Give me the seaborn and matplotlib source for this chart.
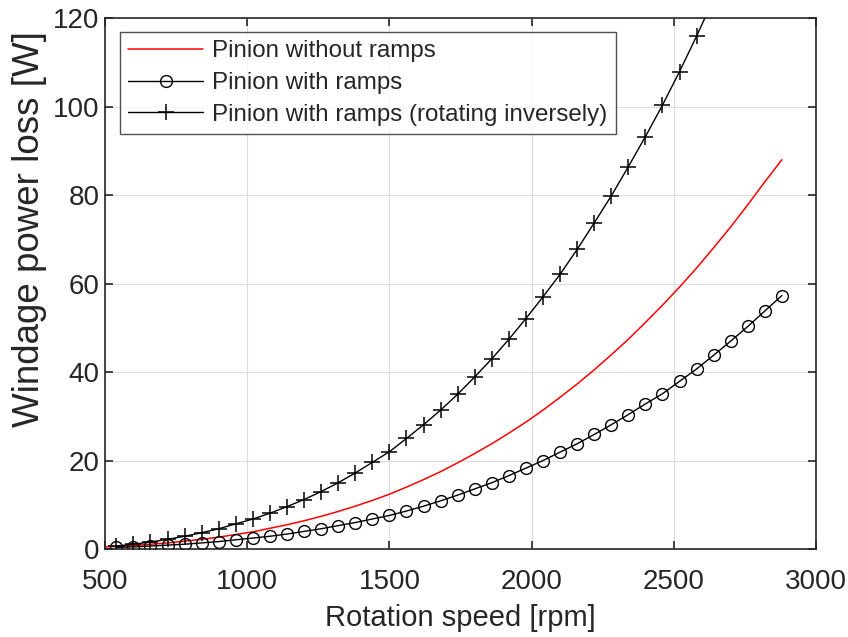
import matplotlib
matplotlib.use("Agg")
import matplotlib.pyplot as plt
import seaborn as sns
import pandas as pd

# ---------------------------------------------
# Datos (rpm -> W)
# ---------------------------------------------
speed_red = [500, 540, 600, 660, 720, 780, 840, 900, 960, 1020, 1080, 1140, 1200,
             1260, 1320, 1380, 1440, 1500, 1560, 1620, 1680, 1740, 1800, 1860,
             1920, 1980, 2040, 2100, 2160, 2220, 2280, 2340, 2400, 2460, 2520,
             2580, 2640, 2700, 2760, 2820, 2880]
loss_no_ramps = [0.5, 0.6, 0.8, 1.1, 1.4, 1.8, 2.2, 2.7, 3.3, 3.9, 4.7, 5.5, 6.4,
                 7.4, 8.5, 9.7, 11.0, 12.4, 14.0, 15.7, 17.5, 19.5, 21.6, 23.8,
                 26.2, 28.7, 31.4, 34.3, 37.3, 40.5, 43.9, 47.4, 51.2, 55.1, 59.2,
                 63.5, 68.1, 72.8, 77.8, 83.0, 88.0]

speed_ramps = [540, 600, 660, 720, 780, 840, 900, 960, 1020, 1080, 1140, 1200,
               1260, 1320, 1380, 1440, 1500, 1560, 1620, 1680, 1740, 1800, 1860,
               1920, 1980, 2040, 2100, 2160, 2220, 2280, 2340, 2400, 2460, 2520,
               2580, 2640, 2700, 2760, 2820, 2880]
loss_ramps = [0.4, 0.5, 0.7, 0.9, 1.1, 1.4, 1.7, 2.1, 2.5, 2.9, 3.4, 4.0,
              4.6, 5.3, 6.0, 6.8, 7.6, 8.6, 9.7, 10.9, 12.2, 13.6, 15.0,
              16.6, 18.3, 20.0, 21.9, 23.8, 25.9, 28.1, 30.4, 32.8, 35.1, 37.9,
              40.7, 43.8, 47.0, 50.3, 53.8, 57.3]

speed_inverse = [540, 600, 660, 720, 780, 840, 900, 960, 1020, 1080, 1140, 1200,
                 1260, 1320, 1380, 1440, 1500, 1560, 1620, 1680, 1740, 1800, 1860,
                 1920, 1980, 2040, 2100, 2160, 2220, 2280, 2340, 2400, 2460, 2520,
                 2580, 2640]
loss_inverse = [0.7, 1.1, 1.6, 2.2, 2.9, 3.7, 4.6, 5.7, 6.8, 8.1, 9.6, 11.2,
                13.0, 15.0, 17.2, 19.6, 22.0, 25.0, 28.1, 31.4, 35.0, 38.9, 43.0,
                47.4, 52.1, 57.0, 62.1, 67.7, 73.7, 79.8, 86.4, 93.2, 100.3, 107.9,
                115.9, 124.3]

labels = ["Pinion without ramps", "Pinion with ramps",
          "Pinion with ramps (rotating inversely)"]

df_red = pd.DataFrame({"speed": speed_red, "loss": loss_no_ramps})
df_ramps = pd.DataFrame({"speed": speed_ramps, "loss": loss_ramps})
df_inv = pd.DataFrame({"speed": speed_inverse, "loss": loss_inverse})

sns.set_style("white")
plt.rcParams["font.family"] = ["Liberation Sans", "DejaVu Sans"]

fig = plt.figure(figsize=(8.48, 6.37), dpi=100)
ax = fig.add_axes([0.1238, 0.138, 0.8385, 0.8337])

sns.lineplot(data=df_red, x="speed", y="loss", ax=ax, color="red", lw=1.1,
             label=labels[0], sort=False)
sns.lineplot(data=df_ramps, x="speed", y="loss", ax=ax, color="black", lw=1.0,
             marker="o", markersize=8.5, markerfacecolor="none",
             markeredgecolor="black", markeredgewidth=1.0,
             label=labels[1], sort=False)
sns.lineplot(data=df_inv, x="speed", y="loss", ax=ax, color="black", lw=1.0,
             marker="+", markersize=12, markeredgecolor="black",
             markeredgewidth=1.1, label=labels[2], sort=False)

ax.set_xlim(500, 3000)
ax.set_ylim(0, 120)
ax.set_xticks([500, 1000, 1500, 2000, 2500, 3000])
ax.set_yticks([0, 20, 40, 60, 80, 100, 120])
ax.set_xlabel("Rotation speed [rpm]", fontsize=21, color="#262626", labelpad=7)
ax.set_ylabel("Windage power loss [W]", fontsize=26.5, color="#262626")
ax.yaxis.set_label_coords(-0.081, 0.602)
ax.tick_params(axis="both", which="major", direction="in", length=6, width=1.2,
               labelsize=20, colors="#262626", top=True, right=True,
               bottom=True, left=True)
ax.tick_params(axis="x", pad=14)
ax.tick_params(axis="y", pad=4)
ax.grid(True, color="#dcdcdc", lw=0.8)
for s in ax.spines.values():
    s.set_color("#262626")
    s.set_linewidth(1.2)

leg = ax.legend(loc="upper left", fontsize=17.4, frameon=True, fancybox=False,
                edgecolor="#262626", handlelength=3.1, borderpad=0.35,
                labelspacing=0.4, handletextpad=0.35, borderaxespad=0,
                bbox_to_anchor=(15 / 711, 1 - 14 / 531))
leg.get_frame().set_linewidth(1.0)

fig.savefig("out.png", dpi=100)
